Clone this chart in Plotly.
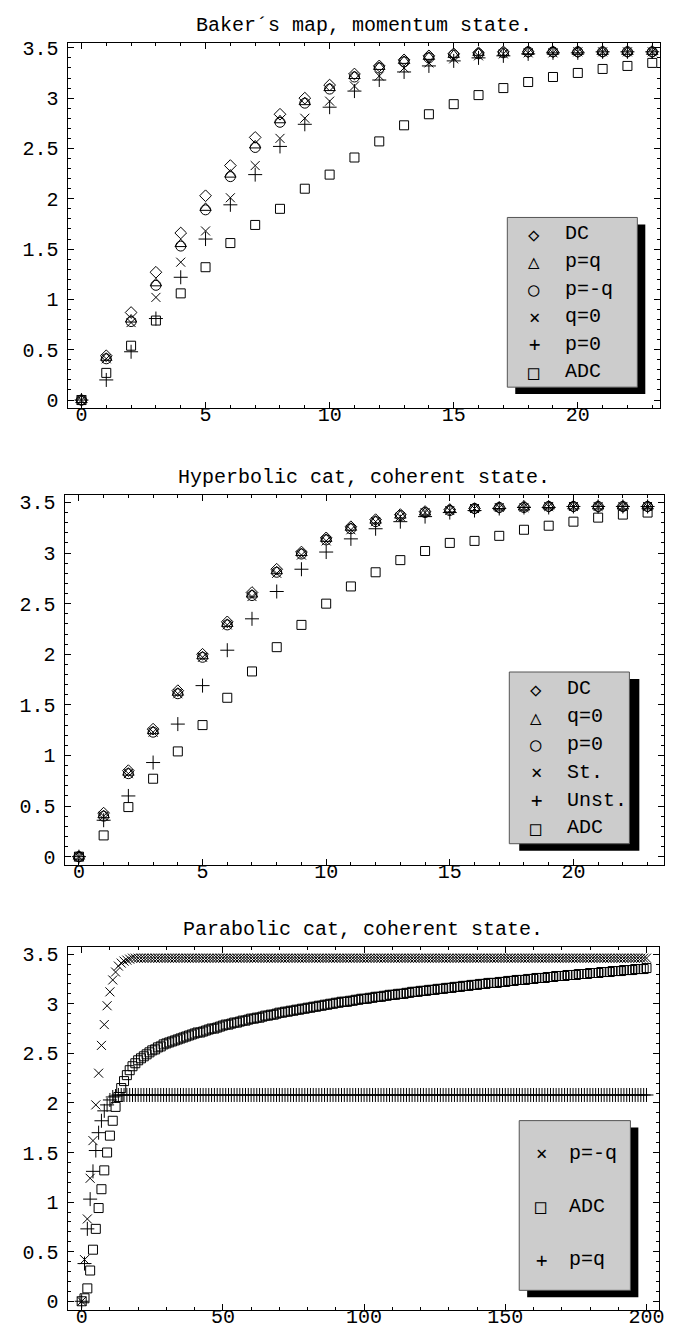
import plotly.graph_objects as go

W, H = 683, 1332
FONT = "Liberation Mono, Courier New, monospace"
SYMFONT = "DejaVu Sans Mono, DejaVu Sans, sans-serif"
FS = 20

# ---------------- Panel 1: Baker's map, momentum state ----------------
B_X = [0, 1, 2, 3, 4, 5, 6, 7, 8, 9, 10, 11, 12, 13, 14, 15, 16, 17, 18, 19, 20, 21, 22, 23]
B_DC = [0, 0.44, 0.87, 1.27, 1.66, 2.03, 2.33, 2.61, 2.84, 3.00, 3.13, 3.24, 3.32, 3.38,
        3.42, 3.44, 3.45, 3.46, 3.46, 3.46, 3.46, 3.46, 3.46, 3.46]
B_PQ = [0, 0.42, 0.80, 1.16, 1.55, 1.91, 2.24, 2.53, 2.78, 2.96, 3.10, 3.22, 3.31, 3.37,
        3.41, 3.43, 3.45, 3.45, 3.46, 3.46, 3.46, 3.46, 3.46, 3.46]
B_PMQ = [0, 0.41, 0.78, 1.14, 1.53, 1.89, 2.22, 2.51, 2.76, 2.95, 3.09, 3.21, 3.30, 3.36,
         3.40, 3.43, 3.44, 3.45, 3.46, 3.46, 3.46, 3.46, 3.46, 3.46]
B_Q0 = [0, 0.41, 0.77, 1.02, 1.37, 1.68, 2.01, 2.33, 2.60, 2.80, 2.97, 3.12, 3.22, 3.30,
        3.35, 3.39, 3.42, 3.44, 3.45, 3.45, 3.46, 3.46, 3.46, 3.46]
B_P0 = [0, 0.20, 0.48, 0.81, 1.22, 1.60, 1.94, 2.24, 2.52, 2.74, 2.91, 3.07, 3.18, 3.26,
        3.32, 3.37, 3.40, 3.42, 3.44, 3.45, 3.45, 3.46, 3.46, 3.46]
B_ADC = [0, 0.27, 0.54, 0.79, 1.06, 1.32, 1.56, 1.74, 1.90, 2.10, 2.24, 2.41, 2.57, 2.73,
         2.84, 2.94, 3.03, 3.10, 3.16, 3.21, 3.25, 3.29, 3.32, 3.35]
B_NAMES = ["DC", "p=q", "p=-q", "q=0", "p=0", "ADC"]

# ---------------- Panel 2: Hyperbolic cat, coherent state ----------------
H_X = [0, 1, 2, 3, 4, 5, 6, 7, 8, 9, 10, 11, 12, 13, 14, 15, 16, 17, 18, 19, 20, 21, 22, 23]
H_DC = [0, 0.43, 0.85, 1.26, 1.64, 2.00, 2.32, 2.61, 2.84, 3.01, 3.15, 3.26, 3.33, 3.38,
        3.41, 3.43, 3.44, 3.45, 3.46, 3.46, 3.46, 3.46, 3.46, 3.46]
H_Q0 = [0, 0.41, 0.83, 1.24, 1.62, 1.98, 2.30, 2.59, 2.82, 3.00, 3.14, 3.25, 3.32, 3.37,
        3.40, 3.43, 3.44, 3.45, 3.45, 3.46, 3.46, 3.46, 3.46, 3.46]
H_P0 = [0, 0.40, 0.82, 1.23, 1.61, 1.97, 2.29, 2.58, 2.81, 2.99, 3.13, 3.24, 3.31, 3.37,
        3.40, 3.42, 3.44, 3.45, 3.45, 3.46, 3.46, 3.46, 3.46, 3.46]
H_ST = [0, 0.40, 0.82, 1.23, 1.61, 1.97, 2.29, 2.57, 2.80, 2.98, 3.12, 3.23, 3.31, 3.36,
        3.40, 3.42, 3.44, 3.45, 3.45, 3.46, 3.46, 3.46, 3.46, 3.46]
H_UNST = [0, 0.36, 0.60, 0.93, 1.31, 1.69, 2.04, 2.35, 2.62, 2.84, 3.01, 3.14, 3.24, 3.31,
          3.36, 3.40, 3.42, 3.44, 3.45, 3.45, 3.46, 3.46, 3.46, 3.46]
H_ADC = [0, 0.21, 0.49, 0.77, 1.04, 1.30, 1.57, 1.83, 2.07, 2.29, 2.50, 2.67, 2.81, 2.93,
         3.02, 3.10, 3.12, 3.17, 3.23, 3.27, 3.31, 3.35, 3.38, 3.40]
H_NAMES = ["DC", "q=0", "p=0", "St.", "Unst.", "ADC"]

# ---------------- Panel 3: Parabolic cat, coherent state ----------------
P_X = list(range(201))
P_PMQ = [0, 0.42, 0.83, 1.24, 1.62, 1.98, 2.30, 2.58, 2.79, 2.98, 3.12, 3.24, 3.32, 3.38,
         3.41, 3.43, 3.44, 3.45,
         3.46, 3.46, 3.46, 3.46, 3.46, 3.46, 3.46, 3.46, 3.46, 3.46, 3.46, 3.46, 3.46, 3.46, 3.46, 3.46, 3.46, 3.46, 3.46, 3.46,
         3.46, 3.46, 3.46, 3.46, 3.46, 3.46, 3.46, 3.46, 3.46, 3.46, 3.46, 3.46, 3.46, 3.46, 3.46, 3.46, 3.46, 3.46, 3.46, 3.46,
         3.46, 3.46, 3.46, 3.46, 3.46, 3.46, 3.46, 3.46, 3.46, 3.46, 3.46, 3.46, 3.46, 3.46, 3.46, 3.46, 3.46, 3.46, 3.46, 3.46,
         3.46, 3.46, 3.46, 3.46, 3.46, 3.46, 3.46, 3.46, 3.46, 3.46, 3.46, 3.46, 3.46, 3.46, 3.46, 3.46, 3.46, 3.46, 3.46, 3.46,
         3.46, 3.46, 3.46, 3.46, 3.46, 3.46, 3.46, 3.46, 3.46, 3.46, 3.46, 3.46, 3.46, 3.46, 3.46, 3.46, 3.46, 3.46, 3.46, 3.46,
         3.46, 3.46, 3.46, 3.46, 3.46, 3.46, 3.46, 3.46, 3.46, 3.46, 3.46, 3.46, 3.46, 3.46, 3.46, 3.46, 3.46, 3.46, 3.46, 3.46,
         3.46, 3.46, 3.46, 3.46, 3.46, 3.46, 3.46, 3.46, 3.46, 3.46, 3.46, 3.46, 3.46, 3.46, 3.46, 3.46, 3.46, 3.46, 3.46, 3.46,
         3.46, 3.46, 3.46, 3.46, 3.46, 3.46, 3.46, 3.46, 3.46, 3.46, 3.46, 3.46, 3.46, 3.46, 3.46, 3.46, 3.46, 3.46, 3.46, 3.46,
         3.46, 3.46, 3.46, 3.46, 3.46, 3.46, 3.46, 3.46, 3.46, 3.46, 3.46, 3.46, 3.46, 3.46, 3.46, 3.46, 3.46, 3.46, 3.46, 3.46,
         3.46, 3.46, 3.46]
P_PQ = [0, 0.38, 0.73, 1.03, 1.31, 1.52, 1.70, 1.82, 1.92, 1.98, 2.03, 2.06, 2.07,
        2.08, 2.08, 2.08, 2.08, 2.08, 2.08, 2.08, 2.08, 2.08, 2.08, 2.08, 2.08, 2.08, 2.08, 2.08, 2.08, 2.08, 2.08, 2.08, 2.08,
        2.08, 2.08, 2.08, 2.08, 2.08, 2.08, 2.08, 2.08, 2.08, 2.08, 2.08, 2.08, 2.08, 2.08, 2.08, 2.08, 2.08, 2.08, 2.08, 2.08,
        2.08, 2.08, 2.08, 2.08, 2.08, 2.08, 2.08, 2.08, 2.08, 2.08, 2.08, 2.08, 2.08, 2.08, 2.08, 2.08, 2.08, 2.08, 2.08, 2.08,
        2.08, 2.08, 2.08, 2.08, 2.08, 2.08, 2.08, 2.08, 2.08, 2.08, 2.08, 2.08, 2.08, 2.08, 2.08, 2.08, 2.08, 2.08, 2.08, 2.08,
        2.08, 2.08, 2.08, 2.08, 2.08, 2.08, 2.08, 2.08, 2.08, 2.08, 2.08, 2.08, 2.08, 2.08, 2.08, 2.08, 2.08, 2.08, 2.08, 2.08,
        2.08, 2.08, 2.08, 2.08, 2.08, 2.08, 2.08, 2.08, 2.08, 2.08, 2.08, 2.08, 2.08, 2.08, 2.08, 2.08, 2.08, 2.08, 2.08, 2.08,
        2.08, 2.08, 2.08, 2.08, 2.08, 2.08, 2.08, 2.08, 2.08, 2.08, 2.08, 2.08, 2.08, 2.08, 2.08, 2.08, 2.08, 2.08, 2.08, 2.08,
        2.08, 2.08, 2.08, 2.08, 2.08, 2.08, 2.08, 2.08, 2.08, 2.08, 2.08, 2.08, 2.08, 2.08, 2.08, 2.08, 2.08, 2.08, 2.08, 2.08,
        2.08, 2.08, 2.08, 2.08, 2.08, 2.08, 2.08, 2.08, 2.08, 2.08, 2.08, 2.08, 2.08, 2.08, 2.08, 2.08, 2.08, 2.08, 2.08, 2.08,
        2.08, 2.08, 2.08, 2.08, 2.08, 2.08, 2.08, 2.08]
P_ADC = [0, 0.03, 0.13, 0.31, 0.52, 0.73, 0.94, 1.13, 1.32, 1.50,
         1.67, 1.82, 1.96, 2.06, 2.15, 2.22, 2.28, 2.33, 2.37, 2.40,
         2.43, 2.45, 2.47, 2.49, 2.51, 2.53, 2.54, 2.56, 2.57, 2.59,
         2.60, 2.61, 2.62, 2.63, 2.64, 2.65, 2.66, 2.67, 2.68, 2.69,
         2.70, 2.71, 2.71, 2.72, 2.73, 2.74, 2.75, 2.75, 2.76, 2.77,
         2.78, 2.79, 2.79, 2.80, 2.81, 2.81, 2.82, 2.83, 2.83, 2.84,
         2.85, 2.85, 2.86, 2.86, 2.87, 2.88, 2.88, 2.89, 2.89, 2.90,
         2.91, 2.91, 2.92, 2.92, 2.93, 2.93, 2.94, 2.94, 2.95, 2.95,
         2.96, 2.96, 2.97, 2.97, 2.98, 2.98, 2.99, 2.99, 3.00, 3.00,
         3.01, 3.01, 3.02, 3.02, 3.02, 3.03, 3.03, 3.04, 3.04, 3.05,
         3.05, 3.05, 3.06, 3.06, 3.07, 3.07, 3.07, 3.08, 3.08, 3.09,
         3.09, 3.09, 3.10, 3.10, 3.10, 3.11, 3.11, 3.12, 3.12, 3.12,
         3.13, 3.13, 3.13, 3.14, 3.14, 3.14, 3.15, 3.15, 3.15, 3.16,
         3.16, 3.16, 3.17, 3.17, 3.17, 3.18, 3.18, 3.18, 3.19, 3.19,
         3.19, 3.20, 3.20, 3.20, 3.21, 3.21, 3.21, 3.21, 3.22, 3.22,
         3.22, 3.23, 3.23, 3.23, 3.24, 3.24, 3.24, 3.24, 3.25, 3.25,
         3.25, 3.26, 3.26, 3.26, 3.26, 3.27, 3.27, 3.27, 3.28, 3.28,
         3.28, 3.28, 3.29, 3.29, 3.29, 3.29, 3.30, 3.30, 3.30, 3.30,
         3.31, 3.31, 3.31, 3.31, 3.32, 3.32, 3.32, 3.32, 3.33, 3.33,
         3.33, 3.33, 3.34, 3.34, 3.34, 3.34, 3.35, 3.35, 3.35, 3.35,
         3.36]
P_NAMES = ["p=-q", "ADC", "p=q"]

TITLES = ["Baker\u00b4s map, momentum state.",
          "Hyperbolic cat, coherent state.",
          "Parabolic cat, coherent state."]

fig = go.Figure()

MSIZE = {"diamond-open": 9, "triangle-up-open": 10, "circle-open": 10,
         "x-thin-open": 9, "cross-thin-open": 10, "square-open": 9}


def add_series(xs, ys, symbol, name, xa, ya):
    fig.add_trace(go.Scatter(
        x=xs, y=ys, mode="markers", name=name, showlegend=False,
        xaxis=xa, yaxis=ya, cliponaxis=False,
        marker=dict(symbol=symbol, size=MSIZE[symbol], color="black",
                    line=dict(color="black", width=1))))


panel1 = [(B_DC, "diamond-open"), (B_PQ, "triangle-up-open"), (B_PMQ, "circle-open"),
          (B_Q0, "x-thin-open"), (B_P0, "cross-thin-open"), (B_ADC, "square-open")]
for (ys, sym), nm in zip(panel1, B_NAMES):
    add_series(B_X, ys, sym, nm, "x", "y")

panel2 = [(H_DC, "diamond-open"), (H_Q0, "triangle-up-open"), (H_P0, "circle-open"),
          (H_ST, "x-thin-open"), (H_UNST, "cross-thin-open"), (H_ADC, "square-open")]
for (ys, sym), nm in zip(panel2, H_NAMES):
    add_series(H_X, ys, sym, nm, "x2", "y2")

panel3 = [(P_PMQ, "x-thin-open"), (P_ADC, "square-open"), (P_PQ, "cross-thin-open")]
for (ys, sym), nm in zip(panel3, P_NAMES):
    add_series(P_X, ys, sym, nm, "x3", "y3")


def px_x(p):
    return p / W


def px_y(p):
    return 1 - p / H


def axis_common(dtick, minor_dtick):
    return dict(showline=True, linecolor="black", linewidth=1, mirror="ticks",
                ticks="inside", ticklen=6, tickwidth=1, tickcolor="black",
                showgrid=False, zeroline=False, dtick=dtick, tick0=0,
                tickfont=dict(family=FONT, size=FS, color="black"),
                minor=dict(ticks="inside", ticklen=3, tickwidth=1, tickcolor="black",
                           dtick=minor_dtick, showgrid=False))


# frame geometry in pixels: (left, right, top, bottom), x range, y range
frames = [
    ((60, 657, 30, 398), [-0.56, 23.32], [-0.079, 3.55], 5, 1),
    ((57, 661, 486, 858), [-0.58, 23.67], [-0.078, 3.57], 5, 1),
    ((60, 656, 941, 1307), [-5.0, 204.5], [-0.09, 3.573], 50, 10),
]

layout_axes = {}
for i, ((l, r, t, b), xr, yr, xd, xm) in enumerate(frames):
    sfx = "" if i == 0 else str(i + 1)
    xa = axis_common(xd, xm)
    xa.update(domain=[px_x(l), px_x(r)], range=xr, anchor="y" + sfx, ticklabelstandoff=-12)
    ya = axis_common(0.5, 0.1)
    ya.update(domain=[px_y(b), px_y(t)], range=yr, anchor="x" + sfx, ticklabelstandoff=4)
    layout_axes["xaxis" + sfx] = xa
    layout_axes["yaxis" + sfx] = ya

shapes = []
annotations = []

# titles
title_y = [13, 468, 923]
for (fr, *_), ttl, ty in zip(frames, TITLES, title_y):
    l, r = fr[0], fr[1]
    annotations.append(dict(text=ttl, x=px_x((l + r) / 2), y=px_y(ty), xref="paper",
                            yref="paper", xanchor="center", yanchor="middle",
                            showarrow=False, font=dict(family=FONT, size=FS, color="black")))

# legend boxes: (box l, t, r, b), shadow offset, symbol x, text x, item ys, names, glyphs
legends = [
    ((503, 206, 634, 377), (8, 7), 530, 559,
     [222.5, 250.3, 278.1, 305.9, 333.7, 361.5], B_NAMES,
     ["\u25c7", "\u25b3", "\u25cb", "\u00d7", "+", "\u25a1"]),
    ((505, 664, 626, 837), (10, 7), 532, 561,
     [681, 709, 737, 765, 793, 821], H_NAMES,
     ["\u25c7", "\u25b3", "\u25cb", "\u00d7", "+", "\u25a1"]),
    ((515, 1116, 627, 1287), (8, 7), 537, 563,
     [1149, 1202.5, 1256], P_NAMES,
     ["\u00d7", "\u25a1", "+"]),
]
for (l, t, r, b), (dx, dy), sx, tx, ys, names, glyphs in legends:
    shapes.append(dict(type="rect", xref="paper", yref="paper",
                       x0=px_x(l + dx), x1=px_x(r + dx), y0=px_y(b + dy), y1=px_y(t + dy),
                       fillcolor="black", line=dict(width=0), layer="above"))
    shapes.append(dict(type="rect", xref="paper", yref="paper",
                       x0=px_x(l), x1=px_x(r), y0=px_y(b), y1=px_y(t),
                       fillcolor="#cccccc", line=dict(color="#555555", width=1), layer="above"))
    for yy, nm, g in zip(ys, names, glyphs):
        annotations.append(dict(text=g, x=px_x(sx), y=px_y(yy), xref="paper", yref="paper",
                                xanchor="center", yanchor="middle", showarrow=False,
                                font=dict(family=SYMFONT, size=19, color="black")))
        annotations.append(dict(text=nm, x=px_x(tx), y=px_y(yy), xref="paper", yref="paper",
                                xanchor="left", yanchor="middle", showarrow=False,
                                font=dict(family=FONT, size=FS, color="black")))

fig.update_layout(
    width=W, height=H, margin=dict(l=0, r=0, t=0, b=0),
    paper_bgcolor="white", plot_bgcolor="white", showlegend=False,
    shapes=shapes, annotations=annotations, **layout_axes)

fig.write_html("out.html")
